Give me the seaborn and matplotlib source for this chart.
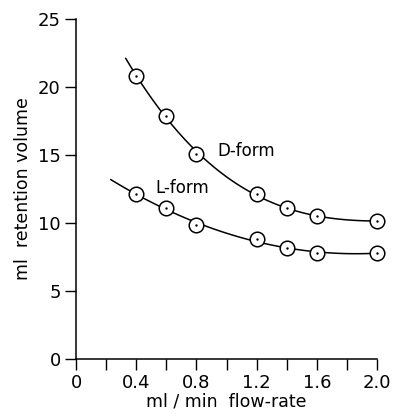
import numpy as np
import pandas as pd
import matplotlib
matplotlib.use("Agg")
import matplotlib.pyplot as plt
import seaborn as sns

flow_rate = [0.4, 0.6, 0.8, 1.2, 1.4, 1.6, 2.0]
d_form = [20.8, 17.9, 15.1, 12.1, 11.1, 10.5, 10.15]
l_form = [12.1, 11.1, 9.85, 8.8, 8.15, 7.8, 7.8]
x_ticks = [0, 0.4, 0.8, 1.2, 1.6, 2.0]
x_tick_labels = ["0", "0.4", "0.8", "1.2", "1.6", "2.0"]
y_ticks = [0, 5, 10, 15, 20, 25]

sns.set_style("ticks")
plt.rcParams["font.family"] = ["DejaVu Sans"]
plt.rcParams["text.color"] = "black"
plt.rcParams["axes.labelcolor"] = "black"
plt.rcParams["xtick.color"] = "black"
plt.rcParams["ytick.color"] = "black"

fig = plt.figure(figsize=(3.97, 4.16), dpi=100)
ax = fig.add_axes([76 / 397, 57 / 416, 301 / 397, 340 / 416])

line_kws = dict(color="black", lw=1.1, clip_on=False)
# fitted smooth curves, drawn over the range the original curves span
ax.set_xlim(0.33, 2.05)
sns.regplot(x=flow_rate, y=d_form, order=3, ci=None, scatter=False,
            truncate=False, line_kws=line_kws, ax=ax)
ax.set_xlim(0.23, 2.05)
sns.regplot(x=flow_rate, y=l_form, order=3, ci=None, scatter=False,
            truncate=False, line_kws=line_kws, ax=ax)

for ys in (d_form, l_form):
    sns.scatterplot(x=flow_rate, y=ys, ax=ax, marker="o", s=110,
                    facecolor="white", edgecolor="black", linewidth=1.1,
                    zorder=5, clip_on=False)
    sns.scatterplot(x=flow_rate, y=ys, ax=ax, marker="o", s=3,
                    color="black", linewidth=0, zorder=6, clip_on=False)

ax.text(0.94, 15.3, "D-form", fontsize=12, va="center", ha="left", color="black")
ax.text(0.525, 12.6, "L-form", fontsize=12, va="center", ha="left", color="black")

ax.set_xlim(0, 2.0)
ax.set_ylim(0, 25)
ax.set_xticks(np.arange(0, 2.01, 0.2), minor=True)
ax.set_xticks(x_ticks)
ax.set_xticklabels(x_tick_labels)
ax.set_yticks(y_ticks)
ax.tick_params(axis="both", which="both", direction="out", length=8,
               width=1.0, color="black", labelcolor="black", labelsize=13, pad=3)
sns.despine(ax=ax)
for s in ("left", "bottom"):
    ax.spines[s].set_linewidth(1.1)
    ax.spines[s].set_color("black")

ax.set_xlabel("ml / min  flow-rate", fontsize=12.5, labelpad=0, color="black")
ax.set_ylabel("ml  retention volume", fontsize=12.5, labelpad=4, color="black")

fig.savefig("out.png", dpi=100)
